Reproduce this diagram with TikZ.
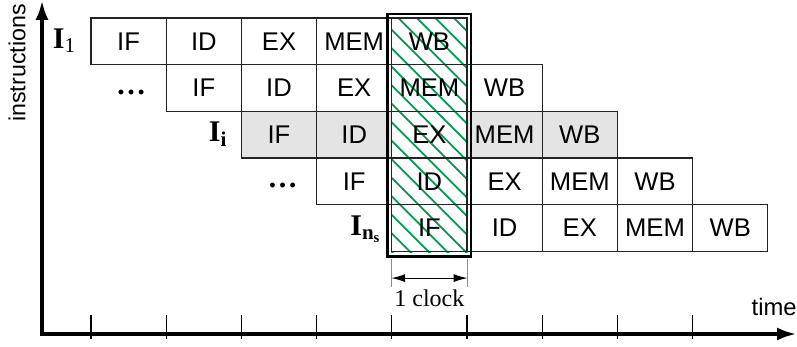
\documentclass[tikz,border=0pt]{standalone}
\usepackage{fontspec}
\setmainfont{Liberation Serif}
\setsansfont{Liberation Sans}
\usetikzlibrary{arrows.meta,backgrounds}
\definecolor{hatchGreen}{RGB}{0,155,75}
\definecolor{rowGray}{RGB}{228,228,228}
\definecolor{cellLine}{RGB}{35,35,35}

\begin{document}
\begin{tikzpicture}[
    x=0.5pt, y=-0.5pt,
    every node/.style={inner sep=0pt},
    stage/.style={draw=cellLine, line width=0.6pt, minimum width=37.6pt, minimum height=23.35pt,
                  font=\sffamily\fontsize{12.8}{14}\selectfont},
    instr/.style={anchor=base east, font=\bfseries\fontsize{15}{17}\selectfont},
    hatch/.style={draw=hatchGreen, line width=0.9pt},
    axis/.style={line width=2pt, {Latex[length=10pt,width=6.5pt]}-{Latex[length=10pt,width=6.5pt]}},
    tick/.style={draw, line width=0.55pt},
    dim/.style={draw=black!45, line width=0.4pt}
]
\useasboundingbox (0,0) rectangle (797,347);

% pipeline stages, one row per instruction
\foreach \r in {0,...,4} {
  \foreach \st [count=\k from 0] in {IF,ID,EX,MEM,WB} {
    \pgfmathsetmacro\cx{91+75.2*(\r+\k)+37.6}
    \pgfmathsetmacro\cy{18+46.7*\r+23.35}
    \node[stage] (c\r\k) at (\cx,\cy) {\st};
  }
}

% shaded instruction and the hatched clock cycle
\begin{scope}[on background layer]
  \fill[rowGray] (c20.north west) rectangle (c24.south east);
  \fill[white] (c04.north west) rectangle (c40.south east);
  \clip (c04.north west) rectangle (c40.south east);
  \foreach \t in {-240,-221.5,...,80}
    \draw[hatch] ({391.8+\t},12) -- ++(250,250);
\end{scope}
\draw[line width=1.2pt] ([xshift=-1.8pt,yshift=1.8pt]c04.north west) rectangle ([xshift=1.8pt,yshift=-2.2pt]c40.south east);

% instruction labels
\node[instr] (i1) at ([xshift=-7pt,yshift=-3.6pt]c00.west) {I\textsubscript{\mdseries 1}};
\node[instr] (d1) at ([xshift=-9.5pt,yshift=-3.2pt]c10.west) {\dots};
\node[instr] (ii) at ([xshift=-6.5pt,yshift=-3.6pt]c20.west) {I\textsubscript{i}};
\node[instr] (d2) at ([xshift=-9pt,yshift=-3.2pt]c30.west) {\dots};
\node[instr] (ins) at ([xshift=-4.7pt,yshift=-3.6pt]c40.west) {I\textsubscript{n\textsubscript{s}}};

% one clock width
\coordinate (clkL) at ([yshift=-13pt]c40.south west);
\coordinate (clkR) at ([yshift=-13pt]c40.south east);
\draw[dim] ([yshift=-3.5pt]c40.south west) -- ([yshift=-17.5pt]c40.south west);
\draw[dim] ([yshift=-3.5pt]c40.south east) -- ([yshift=-17.5pt]c40.south east);
\draw[{Latex[length=7pt,width=4pt]}-{Latex[length=7pt,width=4pt]}, line width=0.6pt] (clkL) -- (clkR);
\node[anchor=base, font=\fontsize{12}{14}\selectfont] (clk) at ([yshift=-27.3pt]c40.south) {1 clock};

% axes
\coordinate (ytop) at (42,0);
\coordinate (origin) at (42,334);
\coordinate (xend) at (797,334);
\draw[axis] (ytop) -- (origin) -- (xend);
\foreach \i in {0,...,8}
  \draw[tick] ({91+75.2*\i},315) -- ({91+75.2*\i},339);
\node[rotate=90, font=\sffamily\fontsize{11.6}{13}\selectfont] (ylab) at (17,63) {instructions};
\node[anchor=base east, font=\sffamily\fontsize{11.9}{13}\selectfont] (xlab) at (797,315) {time};
\end{tikzpicture}
\end{document}
